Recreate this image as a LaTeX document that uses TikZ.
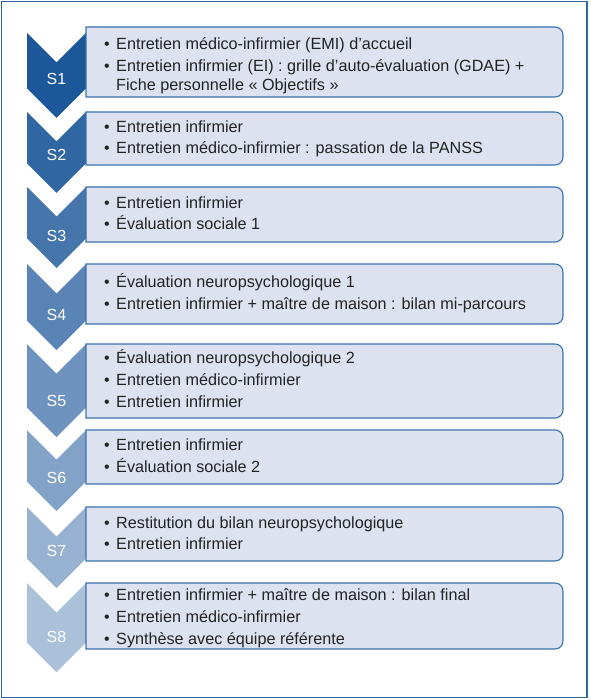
\documentclass[tikz,border=0pt]{standalone}
\usepackage{fontspec}
\setmainfont{Liberation Sans}
\definecolor{framecol}{HTML}{2E66A0}
\definecolor{chev}{RGB}{28,87,153}
\definecolor{boxfill}{HTML}{DDE2F0}
\definecolor{boxline}{HTML}{3A72AE}
\definecolor{txt}{HTML}{232323}
\tikzset{
  chevst/.style={fill=chev!#1},
  boxst/.style={draw=boxline, line width=1.1pt, fill=boxfill},
  itemtxt/.style={anchor=base west, inner sep=0pt, text=txt, font=\fontsize{16.2}{19.5}\selectfont},
  bul/.style={anchor=base, inner sep=0pt, text=txt, font=\fontsize{16}{19.5}\selectfont},
  lab/.style={anchor=base, inner sep=0pt, text=white, font=\fontsize{16}{19}\selectfont},
}
% chevron: top, tip, percentage
\newcommand\mychevron[3]{%
  \fill[chevst=#3] (27,#1) -- (56.5,#1+29.5) -- (86,#1) -- (86,#2-29.5) -- (56.5,#2) -- (27,#2-29.5) -- cycle;}
% box: top, bottom
\newcommand\stepbox[2]{%
  \draw[boxst] (86,#1) -- (555,#1) arc[start angle=270,end angle=360,radius=8] -- (563,#2-8) arc[start angle=0,end angle=90,radius=8] -- (86,#2) -- cycle;}
% item: name, baseline, text
\newcommand\itm[3]{%
  \node[bul] (#1b) at (107,#2) {•};
  \node[itemtxt] (#1) at (116,#2) {#3};}
\begin{document}
\begin{tikzpicture}[x=1pt,y=-1pt]
\useasboundingbox (0,0) rectangle (590,700);
\draw[framecol, line width=1.5pt] (1.5,1.5) rectangle (587,697.5);

\mychevron{33}{118}{100}
\mychevron{112}{193}{91}
\mychevron{187}{268}{82}
\mychevron{264}{350}{73}
\mychevron{344}{437}{64}
\mychevron{430}{511}{55}
\mychevron{507}{588}{46}
\mychevron{583}{672}{37}

\stepbox{27}{97}
\stepbox{112}{165}
\stepbox{187}{242}
\stepbox{264}{324}
\stepbox{344}{418}
\stepbox{430}{484}
\stepbox{507}{561}
\stepbox{583}{649}

\node[lab] (l1) at (56.5,85) {S1};
\node[lab] (l2) at (56.5,161) {S2};
\node[lab] (l3) at (56.5,241) {S3};
\node[lab] (l4) at (56.5,320) {S4};
\node[lab] (l5) at (56.5,406) {S5};
\node[lab] (l6) at (56.5,483) {S6};
\node[lab] (l7) at (56.5,556) {S7};
\node[lab] (l8) at (56.5,642) {S8};

\itm{a1}{49.3}{Entretien médico-infirmier (EMI) d’accueil}
\itm{a2}{71.7}{Entretien infirmier (EI) : grille d’auto-évaluation (GDAE) +}
\node[itemtxt] (a3) at (116,91) {Fiche personnelle « Objectifs »};

\itm{b1}{132.3}{Entretien infirmier}
\itm{b2}{153.3}{Entretien médico-infirmier : passation de la PANSS}

\itm{c1}{208.3}{Entretien infirmier}
\itm{c2}{230}{Évaluation sociale 1}

\itm{d1}{287.3}{Évaluation neuropsychologique 1}
\itm{d2}{309}{Entretien infirmier + maître de maison : bilan mi-parcours}

\itm{e1}{363.3}{Évaluation neuropsychologique 2}
\itm{e2}{385}{Entretien médico-infirmier}
\itm{e3}{407.3}{Entretien infirmier}

\itm{f1}{450.7}{Entretien infirmier}
\itm{f2}{472.3}{Évaluation sociale 2}

\itm{g1}{528.3}{Restitution du bilan neuropsychologique}
\itm{g2}{549.3}{Entretien infirmier}

\itm{h1}{600}{Entretien infirmier + maître de maison : bilan final}
\itm{h2}{622.3}{Entretien médico-infirmier}
\itm{h3}{644}{Synthèse avec équipe référente}
\end{tikzpicture}
\end{document}
